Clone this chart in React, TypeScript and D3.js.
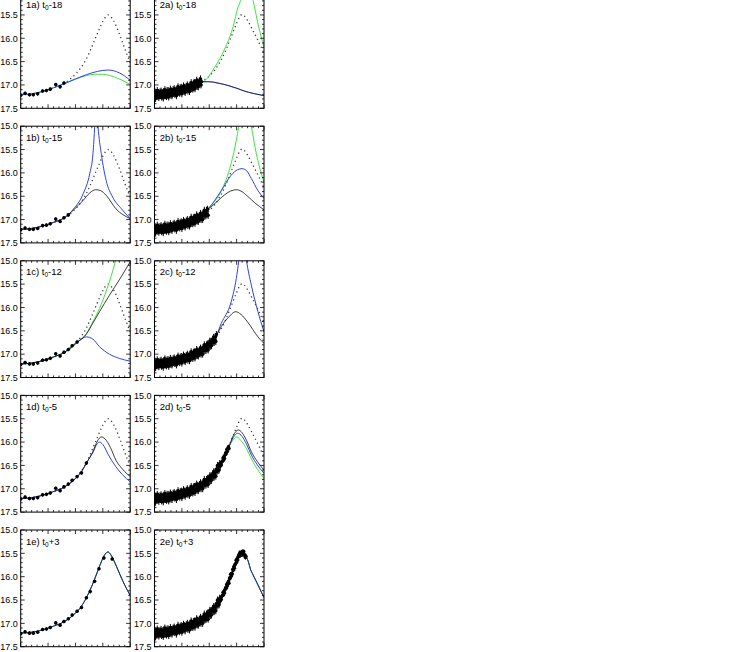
import React from "react";
import * as d3 from "d3";

type P = [number, number];

// ---------- data (x: time in arbitrary units 0..100, y: magnitude) ----------
const SPARSE_DATA: P[] = [
  [0, 17.22], [4, 17.18], [8, 17.21], [11.5, 17.21], [15.5, 17.19], [20, 17.13], [23.5, 17.12],
  [27, 17.09], [32, 16.99], [36, 17.04], [39.5, 16.96], [43.5, 16.9], [47, 16.82], [51.5, 16.74],
  [55.5, 16.66], [60, 16.45], [63.5, 16.32], [67.5, 16.1], [71.5, 15.83], [76, 15.6], [83.5, 15.62],
];

const DENSE_DATA: P[] = [
  [0, 17.25], [0.5, 17.15], [1, 17.29], [1.5, 17.19], [2, 17.22], [2.5, 17.12], [3, 17.25], [3.5, 17.16],
  [4, 17.27], [4.5, 17.19], [5, 17.15], [5.5, 17.23], [6, 17.13], [6.5, 17.26], [7, 17.2], [7.5, 17.16],
  [8, 17.28], [8.5, 17.14], [9, 17.21], [9.5, 17.1], [10, 17.23], [10.5, 17.17], [11, 17.25], [11.5, 17.12],
  [12, 17.22], [12.5, 17.12], [13, 17.26], [13.5, 17.16], [14, 17.18], [14.5, 17.09], [15, 17.22], [15.5, 17.13],
  [16, 17.23], [16.5, 17.15], [17, 17.1], [17.5, 17.18], [18, 17.08], [18.5, 17.2], [19, 17.14], [19.5, 17.11],
  [20, 17.23], [20.5, 17.09], [21, 17.15], [21.5, 17.04], [22, 17.16], [22.5, 17.1], [23, 17.18], [23.5, 17.06],
  [24, 17.15], [24.5, 17.05], [25, 17.19], [25.5, 17.09], [26, 17.11], [26.5, 17.02], [27, 17.14], [27.5, 17.05],
  [28, 17.16], [28.5, 17.07], [29, 17.03], [29.5, 17.1], [30, 17.0], [30.5, 17.13], [31, 17.06], [31.5, 17.03],
  [32, 17.14], [32.5, 17.0], [33, 17.07], [33.5, 16.95], [34, 17.08], [34.5, 17.01], [35, 17.09], [35.5, 16.96],
  [36, 17.06], [36.5, 16.95], [37, 17.08], [37.5, 16.98], [38, 17.0], [38.5, 16.9], [39, 17.03], [39.5, 16.93],
  [40, 17.04], [40.5, 16.95], [41, 16.91], [41.5, 16.98], [42, 16.87], [42.5, 17.0], [43, 16.93], [43.5, 16.89],
  [44, 17.0], [44.5, 16.86], [45, 16.92], [45.5, 16.8], [46, 16.92], [46.5, 16.85], [47, 16.92], [47.5, 16.8],
  [48, 16.89], [48.5, 16.78], [49, 16.91], [49.5, 16.8], [50, 16.82], [50.5, 16.72], [51, 16.83], [51.5, 16.73],
  [52, 16.82], [52.5, 16.73], [53, 16.68], [53.5, 16.75], [54, 16.64], [54.5, 16.75], [55, 16.68], [55.5, 16.63],
  [56, 16.73], [56.5, 16.58], [57, 16.63], [57.5, 16.5], [58, 16.61], [58.5, 16.53], [59, 16.6], [59.5, 16.46],
  [60, 16.52], [60.5, 16.45], [61, 16.49], [61.5, 16.42], [62, 16.41], [62.5, 16.34], [63, 16.39], [63.5, 16.31],
  [64, 16.35], [64.5, 16.27], [65, 16.23], [65.5, 16.25], [66, 16.16], [66.5, 16.2], [67, 16.14], [67.5, 16.1],
  [68, 16.14], [68.5, 16.03], [69, 16.04], [69.5, 15.95], [70, 15.99], [70.5, 15.93], [71, 15.94], [71.5, 15.84],
  [72, 15.86], [72.5, 15.78], [73, 15.82], [73.5, 15.74], [74, 15.73], [74.5, 15.65], [75, 15.69], [75.5, 15.61],
  [76, 15.64], [76.5, 15.57], [77, 15.53], [77.5, 15.56], [78, 15.48], [78.5, 15.54], [79, 15.5], [79.5, 15.47],
  [80, 15.53], [80.5, 15.46], [81, 15.51], [81.5, 15.46], [82, 15.54], [82.5, 15.53], [83, 15.59], [83.5, 15.56],
];

// true (input) light curves, dotted
const TRUE_1: P[] = [
  [0, 17.21], [10, 17.19], [20, 17.14], [30, 17.06], [40, 16.96], [45, 16.88], [50, 16.77], [55, 16.63],
  [60, 16.44], [65, 16.18], [70, 15.9], [75, 15.64], [78, 15.53], [80, 15.5], [82, 15.53], [85, 15.63],
  [90, 15.9], [95, 16.22], [100, 16.52],
];
const TRUE_2: P[] = [
  [0, 17.21], [10, 17.19], [20, 17.14], [30, 17.07], [40, 16.97], [45, 16.9], [50, 16.81], [55, 16.68],
  [60, 16.5], [65, 16.26], [70, 15.97], [75, 15.68], [78, 15.53], [80, 15.49], [82, 15.52], [85, 15.62],
  [90, 15.84], [95, 16.07], [100, 16.32],
];

// column 1 fits
const FIT_1A_BLUE: P[] = [[0, 17.21], [10, 17.19], [20, 17.14], [30, 17.06], [40, 16.97], [50, 16.87], [60, 16.78], [70, 16.71], [80, 16.68], [90, 16.74], [100, 16.9]];
const FIT_1A_GREEN: P[] = [[0, 17.21], [10, 17.19], [20, 17.14], [30, 17.06], [40, 16.97], [50, 16.88], [60, 16.8], [68, 16.77], [75, 16.77], [82, 16.8], [90, 16.87], [100, 16.99]];

const FIT_1B_BLUE: P[] = [[0, 17.21], [10, 17.19], [20, 17.14], [30, 17.06], [40, 16.96], [48, 16.78], [57, 16.45], [63, 16.02], [66, 15.59], [67.6, 15.0], [69, 14.4], [70.6, 15.0], [73.6, 15.59], [78, 16.16], [84, 16.52], [92, 16.77], [100, 16.98]];
const FIT_1B_BLACK: P[] = [[0, 17.21], [10, 17.19], [20, 17.14], [30, 17.06], [40, 16.96], [48, 16.8], [57, 16.59], [63, 16.43], [68.5, 16.36], [73, 16.38], [78, 16.48], [87, 16.77], [100, 16.98]];

const FIT_1C_GREEN: P[] = [[0, 17.21], [10, 17.19], [20, 17.14], [30, 17.06], [40, 16.96], [52, 16.74], [60, 16.56], [66, 16.3], [72, 16.02], [77, 15.72], [81, 15.45], [84, 15.22], [86, 15.05], [88, 14.9]];
const FIT_1C_BLACK: P[] = [[0, 17.21], [10, 17.19], [20, 17.14], [30, 17.06], [40, 16.96], [52, 16.74], [60, 16.57], [66, 16.33], [72, 16.09], [81, 15.74], [90, 15.41], [100, 15.02]];
const FIT_1C_BLUE: P[] = [[0, 17.21], [10, 17.19], [20, 17.14], [30, 17.06], [40, 16.96], [48, 16.8], [54, 16.7], [60, 16.63], [66, 16.68], [72, 16.84], [81, 17.0], [90, 17.09], [100, 17.15]];

const FIT_1D_BLACK: P[] = [[0, 17.21], [10, 17.19], [20, 17.14], [30, 17.06], [40, 16.96], [50, 16.78], [55, 16.65], [60, 16.45], [66, 16.2], [70, 15.98], [73.5, 15.89], [77, 15.93], [82, 16.12], [87, 16.39], [93, 16.58], [100, 16.74]];
const FIT_1D_BLUE: P[] = [[0, 17.21], [10, 17.19], [20, 17.14], [30, 17.06], [40, 16.96], [50, 16.78], [55, 16.65], [60, 16.45], [66, 16.22], [70, 16.03], [72, 16.0], [75, 16.05], [80, 16.27], [87, 16.53], [93, 16.7], [100, 16.85]];

const FIT_1E: P[] = [[0, 17.21], [10, 17.19], [20, 17.14], [30, 17.06], [40, 16.96], [50, 16.78], [55, 16.65], [60, 16.45], [65, 16.2], [70, 15.9], [74, 15.66], [77, 15.52], [79.7, 15.47], [82, 15.52], [85, 15.65], [90, 15.92], [95, 16.18], [100, 16.4]];

// column 2 fits
const FIT_2A_GREEN: P[] = [[0, 17.21], [10, 17.19], [20, 17.14], [30, 17.07], [40, 16.97], [46, 16.91], [55, 16.62], [64, 16.23], [71.7, 15.76], [76.3, 15.33], [78.7, 15.19], [81, 15.0], [84.3, 14.6], [87.5, 15.0], [90, 15.19], [94.5, 15.69], [100, 16.19]];
const FIT_2A_BLACK: P[] = [[0, 17.21], [10, 17.19], [20, 17.14], [30, 17.07], [40, 16.97], [45, 16.93], [50, 16.93], [58, 16.96], [67, 17.01], [75, 17.07], [82, 17.13], [90, 17.18], [100, 17.23]];

const FIT_2B_GREEN: P[] = [[0, 17.21], [10, 17.19], [20, 17.14], [30, 17.07], [40, 16.97], [49, 16.77], [61, 16.38], [70, 15.8], [74.7, 15.3], [77, 15.0], [82.7, 14.3], [88.4, 15.0], [93, 15.59], [100, 16.2]];
const FIT_2B_BLUE: P[] = [[0, 17.21], [10, 17.19], [20, 17.14], [30, 17.07], [40, 16.97], [49, 16.77], [61, 16.38], [70, 16.05], [76, 15.93], [80, 15.91], [84, 15.95], [88.4, 16.12], [94.5, 16.38], [100, 16.55]];
const FIT_2B_BLACK: P[] = [[0, 17.21], [10, 17.19], [20, 17.14], [30, 17.07], [40, 16.97], [49, 16.78], [55, 16.66], [61, 16.53], [67, 16.42], [72, 16.37], [75, 16.36], [79, 16.39], [85, 16.5], [92, 16.65], [100, 16.79]];

const FIT_2C_BLUE: P[] = [[0, 17.21], [10, 17.19], [20, 17.14], [30, 17.07], [40, 16.97], [50, 16.81], [56.5, 16.6], [61, 16.34], [70, 15.88], [74.7, 15.38], [77, 15.0], [80.5, 14.4], [84, 15.0], [88.4, 15.52], [94.5, 16.09], [100, 16.52]];
const FIT_2C_BLACK: P[] = [[0, 17.21], [10, 17.19], [20, 17.14], [30, 17.07], [40, 16.97], [50, 16.81], [56.5, 16.6], [61, 16.41], [68, 16.2], [74, 16.09], [79, 16.15], [85, 16.31], [94.5, 16.63], [100, 16.77]];

const FIT_2D_BLACK: P[] = [[0, 17.21], [10, 17.19], [20, 17.14], [30, 17.07], [40, 16.97], [50, 16.81], [60, 16.5], [65, 16.26], [68, 16.1], [72, 15.86], [76.5, 15.74], [80, 15.8], [84, 15.96], [88.5, 16.21], [94, 16.42], [100, 16.6]];
const FIT_2D_BLUE: P[] = [[0, 17.21], [10, 17.19], [20, 17.14], [30, 17.07], [40, 16.97], [50, 16.81], [60, 16.5], [65, 16.26], [68, 16.1], [72, 15.9], [76, 15.81], [80, 15.88], [84, 16.04], [88.5, 16.28], [94, 16.49], [100, 16.67]];
const FIT_2D_GREEN: P[] = [[0, 17.21], [10, 17.19], [20, 17.14], [30, 17.07], [40, 16.97], [50, 16.81], [60, 16.5], [65, 16.26], [68, 16.1], [72, 15.95], [75, 15.89], [79, 15.97], [84, 16.14], [88.5, 16.36], [94, 16.58], [100, 16.78]];

const FIT_2E: P[] = [[0, 17.21], [10, 17.19], [20, 17.14], [30, 17.07], [40, 16.97], [50, 16.81], [55, 16.68], [60, 16.5], [65, 16.26], [70, 15.97], [75, 15.68], [78, 15.52], [80, 15.47], [82, 15.51], [86, 15.7], [87.5, 15.83], [90, 15.96], [95, 16.2], [100, 16.45]];

const PANEL_LABELS = ["1a", "1b", "1c", "1d", "1e", "2a", "2b", "2c", "2d", "2e"];
const EPOCH_LABELS = ["-18", "-15", "-12", "-5", "+3"];
const CUTOFF_1 = [40.5, 44, 52.5, 61, 100];
const CUTOFF_2 = [43.4, 49, 56.5, 68, 100];

const Y_MAJOR = [15.0, 15.5, 16.0, 16.5, 17.0, 17.5];

// ---------- styles / layout ----------
const GREEN = "#3fe33f";
const BLUE = "#2f42e6";
const BLACK = "#1c1c1c";
const DOT = "#3a3a3a";
const FONT = "'Liberation Sans', Arial, Helvetica, sans-serif";

const COL_X = [20.7, 154.5];
const ROW_Y = [-8.4, 126.2, 260.8, 395.4, 530];
const PW = 109.5;
const PH = 116.7;

type Curve = { data: P[]; color: string; dotted?: boolean; opacity?: number };

const COL_CURVES: Curve[][][] = [
  [
    [{ data: TRUE_1, color: DOT, dotted: true }, { data: FIT_1A_GREEN, color: GREEN }, { data: FIT_1A_BLUE, color: BLUE }],
    [{ data: TRUE_1, color: DOT, dotted: true }, { data: FIT_1B_BLUE, color: BLUE }, { data: FIT_1B_BLACK, color: BLACK, opacity: 0.85 }],
    [{ data: TRUE_1, color: DOT, dotted: true }, { data: FIT_1C_GREEN, color: GREEN }, { data: FIT_1C_BLUE, color: BLUE }, { data: FIT_1C_BLACK, color: BLACK, opacity: 0.85 }],
    [{ data: TRUE_1, color: DOT, dotted: true }, { data: FIT_1D_BLUE, color: BLUE }, { data: FIT_1D_BLACK, color: BLACK, opacity: 0.85 }],
    [{ data: FIT_1E, color: GREEN }, { data: FIT_1E, color: BLUE }, { data: FIT_1E, color: BLACK, opacity: 0.6 }],
  ],
  [
    [{ data: TRUE_2, color: DOT, dotted: true }, { data: FIT_2A_GREEN, color: GREEN }, { data: FIT_2A_BLACK, color: BLUE }, { data: FIT_2A_BLACK, color: BLACK, opacity: 0.65 }],
    [{ data: TRUE_2, color: DOT, dotted: true }, { data: FIT_2B_GREEN, color: GREEN }, { data: FIT_2B_BLUE, color: BLUE }, { data: FIT_2B_BLACK, color: BLACK, opacity: 0.85 }],
    [{ data: TRUE_2, color: DOT, dotted: true }, { data: FIT_2C_BLUE, color: BLUE }, { data: FIT_2C_BLACK, color: BLACK, opacity: 0.85 }],
    [{ data: TRUE_2, color: DOT, dotted: true }, { data: FIT_2D_GREEN, color: GREEN }, { data: FIT_2D_BLUE, color: BLUE }, { data: FIT_2D_BLACK, color: BLACK, opacity: 0.85 }],
    [{ data: FIT_2E, color: GREEN }, { data: FIT_2E, color: BLUE }, { data: FIT_2E, color: BLACK, opacity: 0.6 }],
  ],
];

const xScale = d3.scaleLinear().domain([0, 100]).range([0, PW]);
const yScale = d3.scaleLinear().domain([15, 17.5]).range([0, PH]);
const lineGen = d3
  .line<P>()
  .x((d) => xScale(d[0]))
  .y((d) => yScale(d[1]))
  .curve(d3.curveMonotoneX);

const yMinor = d3.range(150, 176, 1).map((v) => v / 10);
const xMinor = d3.range(0, 101, 5);

function Panel({ col, row }: { col: number; row: number }) {
  const x0 = COL_X[col];
  const y0 = ROW_Y[row];
  const id = `clip-${col}-${row}`;
  const cutoff = (col === 0 ? CUTOFF_1 : CUTOFF_2)[row];
  const pts = (col === 0 ? SPARSE_DATA : DENSE_DATA).filter((d) => d[0] <= cutoff);
  const err = col === 0 ? 0.035 : 0.075;
  const r = col === 0 ? 1.8 : 1.75;
  const label = PANEL_LABELS[col * 5 + row];
  const labelY = row === 0 ? 16.8 : 14.5;
  // tick labels falling outside the visible page are not drawn
  const visibleTicks = Y_MAJOR.filter((v) => y0 + yScale(v) > 4);
  return (
    <g transform={`translate(${x0},${y0})`}>
      <defs>
        <clipPath id={id}>
          <rect x={0} y={0} width={PW} height={PH} />
        </clipPath>
      </defs>
      <g clipPath={`url(#${id})`}>
        {COL_CURVES[col][row].map((c, i) => (
          <path
            key={i}
            d={lineGen(c.data) || ""}
            fill="none"
            stroke={c.color}
            strokeWidth={c.dotted ? 1.3 : 1}
            strokeDasharray={c.dotted ? "1.2 3.2" : undefined}
            strokeOpacity={c.opacity ?? 1}
          />
        ))}
        {pts.map((d, i) => {
          const e = col === 1 && d[0] > 60 ? 0.045 : err;
          return (
            <g key={i}>
              <line
                x1={xScale(d[0])}
                x2={xScale(d[0])}
                y1={yScale(d[1] - e)}
                y2={yScale(d[1] + e)}
                stroke="#000"
                strokeWidth={1}
              />
              <circle cx={xScale(d[0])} cy={yScale(d[1])} r={r} fill="#000" />
            </g>
          );
        })}
      </g>
      <rect x={0} y={0} width={PW} height={PH} fill="none" stroke="#000" strokeWidth={1} />
      {yMinor.map((v, i) => {
        const major = Math.abs(v * 2 - Math.round(v * 2)) < 1e-6;
        const len = major ? 4 : 2;
        const y = yScale(v);
        return (
          <g key={`y${i}`}>
            <line x1={0} x2={len} y1={y} y2={y} stroke="#000" strokeWidth={0.8} />
            <line x1={PW - len} x2={PW} y1={y} y2={y} stroke="#000" strokeWidth={0.8} />
          </g>
        );
      })}
      {xMinor.map((v, i) => {
        const major = v % 25 === 0;
        const len = major ? 4 : 2;
        const x = xScale(v);
        return (
          <g key={`x${i}`}>
            <line x1={x} x2={x} y1={0} y2={len} stroke="#000" strokeWidth={0.8} />
            <line x1={x} x2={x} y1={PH - len} y2={PH} stroke="#000" strokeWidth={0.8} />
          </g>
        );
      })}
      {visibleTicks.map((v) => (
        <text
          key={`yl${v}`}
          x={-3}
          y={yScale(v)}
          dy="0.36em"
          textAnchor="end"
          fontFamily={FONT}
          fontSize={9}
          fill="#000"
        >
          {v.toFixed(1)}
        </text>
      ))}
      <text x={5.3} y={labelY} fontFamily={FONT} fontSize={9.5} fill="#000">
        {`${label}) t`}
        <tspan fontSize={6.5} dy={2}>0</tspan>
        <tspan dy={-2}>{EPOCH_LABELS[row]}</tspan>
      </text>
    </g>
  );
}

export default function App() {
  return (
    <svg
      width={751}
      height={652}
      style={{ position: "absolute", left: 0, top: 0, background: "#fff" }}
    >
      <rect x={0} y={0} width={751} height={652} fill="#fff" />
      {[0, 1].map((c) => [0, 1, 2, 3, 4].map((r) => <Panel key={`${c}-${r}`} col={c} row={r} />))}
    </svg>
  );
}
